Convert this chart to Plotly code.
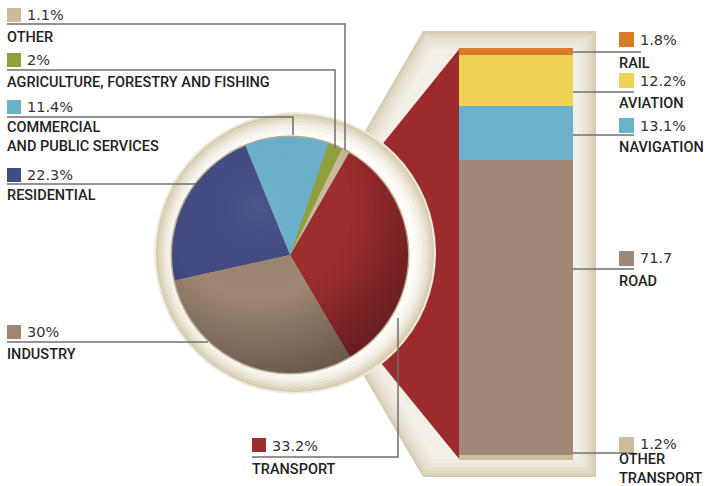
import base64
import math
import plotly.graph_objects as go

W, H = 709, 486

# ---------------- data ----------------
sectors = ["TRANSPORT", "OTHER", "AGRICULTURE, FORESTRY AND FISHING",
           "COMMERCIAL<br>AND PUBLIC SERVICES", "RESIDENTIAL", "INDUSTRY"]
sector_share = [33.2, 1.1, 2.0, 11.4, 22.3, 30.0]
sector_value_labels = ["33.2%", "1.1%", "2%", "11.4%", "22.3%", "30%"]
sector_colors = ["#9e2d2f", "#cbbb9a", "#8ea23c", "#69b0c9", "#434b84", "#9d8571"]

modes = ["OTHER<br>TRANSPORT", "ROAD", "NAVIGATION", "AVIATION", "RAIL"]
mode_share = [1.2, 71.7, 13.1, 12.2, 1.8]
mode_value_labels = ["1.2%", "71.7", "13.1%", "12.2%", "1.8%"]
mode_colors = ["#cdbd9c", "#a08878", "#6ab1ca", "#efd253", "#d97b2a"]

# ---------------- layout helpers (pixel space) ----------------
def Y(y):
    return H - y

PIE_C = (290, 255)
PIE_R = 118
RING_C = (295, 253)
BAR_X = (459, 573)
BAR_Y = (48, 460)

fig = go.Figure()

# pie of sectors
fig.add_trace(go.Pie(
    labels=[s.replace("<br>", " ") for s in sectors], values=sector_share,
    marker=dict(colors=sector_colors, line=dict(width=0)),
    sort=False, direction="counterclockwise", rotation=30,
    textinfo="none", hoverinfo="label+percent", showlegend=False,
    domain=dict(x=[(PIE_C[0] - PIE_R) / W, (PIE_C[0] + PIE_R) / W],
                y=[(Y(PIE_C[1]) - PIE_R) / H, (Y(PIE_C[1]) + PIE_R) / H]),
))

# stacked bar of transport modes
for m, v, c in zip(modes, mode_share, mode_colors):
    fig.add_trace(go.Bar(
        x=[0], y=[v], name=m.replace("<br>", " "), marker=dict(color=c, line=dict(width=0)),
        width=1, xaxis="x2", yaxis="y2", showlegend=False,
    ))

shapes = []

def inset_poly(pts, d):
    """Shrink a convex polygon by moving every edge d pixels towards the centroid."""
    n = len(pts)
    cx = sum(p[0] for p in pts) / n
    cy = sum(p[1] for p in pts) / n
    lines = []
    for i in range(n):
        x1, y1 = pts[i]
        x2, y2 = pts[(i + 1) % n]
        dx, dy = x2 - x1, y2 - y1
        L = math.hypot(dx, dy)
        nx, ny = -dy / L, dx / L
        if (cx - x1) * nx + (cy - y1) * ny < 0:
            nx, ny = -nx, -ny
        lines.append(((x1 + nx * d, y1 + ny * d), (dx, dy)))
    out = []
    for i in range(n):
        (p1, d1), (p2, d2) = lines[i - 1], lines[i]
        den = d1[0] * d2[1] - d1[1] * d2[0]
        t = ((p2[0] - p1[0]) * d2[1] - (p2[1] - p1[1]) * d2[0]) / den
        out.append((p1[0] + t * d1[0], p1[1] + t * d1[1]))
    return out

def poly_path(pts):
    return "M " + " L ".join(f"{x:.2f},{Y(y):.2f}" for x, y in pts) + " Z"

# hexagonal beige background with graded border
hexagon = [(423, 31), (596, 31), (596, 477), (423, 477), (293, 255)]
for d, col in [(0, "#d6cbb1"), (2, "#dcd2bc"), (4, "#e2d9c7"), (7, "#e8e1d2"),
               (10, "#ece6da"), (14, "#f0ebe1"), (18, "#f3efe7")]:
    shapes.append(dict(type="path", path=poly_path(inset_poly(hexagon, d)),
                       fillcolor=col, line=dict(width=0), layer="below", xref="x", yref="y"))

# red connector from pie to bar
shapes.append(dict(type="path", path=poly_path([(BAR_X[0] + 1, BAR_Y[0]), (BAR_X[0] + 1, BAR_Y[1]), (293, 255)]),
                   fillcolor="#9b2b2d", line=dict(width=0), layer="below", xref="x", yref="y"))

# ring around the pie
for r, col in [(141, "#efeadf"), (139, "#d7cbb0"), (137, "#dfd6c1"), (134, "#e8e1d0"),
               (131, "#efeadf"), (128, "#f5f2ea"), (124, "#faf8f3"), (121, "#fdfcf9")]:
    shapes.append(dict(type="circle", x0=RING_C[0] - r, x1=RING_C[0] + r,
                       y0=Y(RING_C[1]) - r, y1=Y(RING_C[1]) + r,
                       fillcolor=col, line=dict(width=0), layer="below", xref="x", yref="y"))
shapes.append(dict(type="circle", x0=PIE_C[0] - PIE_R - 1.5, x1=PIE_C[0] + PIE_R + 1.5,
                   y0=Y(PIE_C[1]) - PIE_R - 1.5, y1=Y(PIE_C[1]) + PIE_R + 1.5,
                   fillcolor="#b9ad95", line=dict(width=0), layer="below", xref="x", yref="y"))

# pie shading overlay (radial gradient)
svg = ('<svg xmlns="http://www.w3.org/2000/svg" width="240" height="240" viewBox="0 0 240 240">'
       '<defs><radialGradient id="g" cx="0.36" cy="0.30" r="0.78">'
       '<stop offset="0" stop-color="#fff" stop-opacity="0.05"/>'
       '<stop offset="0.5" stop-color="#000" stop-opacity="0"/>'
       '<stop offset="1" stop-color="#000" stop-opacity="0.38"/>'
       '</radialGradient></defs><circle cx="120" cy="120" r="120" fill="url(#g)"/></svg>')
img_src = "data:image/svg+xml;base64," + base64.b64encode(svg.encode()).decode()
images = [dict(source=img_src, xref="paper", yref="paper",
               x=(PIE_C[0] - PIE_R) / W, y=Y(PIE_C[1] - PIE_R) / H,
               sizex=2 * PIE_R / W, sizey=2 * PIE_R / H,
               xanchor="left", yanchor="top", sizing="stretch", layer="above")]

# ---------------- labels ----------------
LINE_COL = "#6f6f6f"
TXT = "#222222"
LABEL_FONT = dict(family="Roboto, Liberation Sans, Arial, sans-serif", size=14.5, color=TXT, weight=500)
VALUE_FONT = dict(family="DejaVu Sans, sans-serif", size=14.5, color="#333333")

annotations = []

def add_label(sq, val_y, val_text, name_y, name_text, color, line_pts, sq_size=14):
    sx, sy = sq
    shapes.append(dict(type="rect", x0=sx, x1=sx + sq_size, y0=Y(sy), y1=Y(sy + sq_size),
                       fillcolor=color, line=dict(width=0), layer="above", xref="x", yref="y"))
    annotations.append(dict(x=sx + sq_size + 4, y=Y(val_y), text=val_text, showarrow=False,
                            xanchor="left", yanchor="middle", font=VALUE_FONT, xref="x", yref="y"))
    annotations.append(dict(x=sx - 2, y=Y(name_y), text=name_text, showarrow=False,
                            xanchor="left", yanchor="middle", font=LABEL_FONT, xref="x", yref="y",
                            align="left"))
    path = "M " + " L ".join(f"{x},{Y(y)}" for x, y in line_pts)
    shapes.append(dict(type="path", path=path, line=dict(color=LINE_COL, width=1.5),
                       layer="above", xref="x", yref="y"))

# left-side sector labels (index into sector lists)
sector_label_pos = {
    1: ((7, 8), 15, 37, [(7, 24), (345, 24), (345, 150)]),
    2: ((7, 53), 60, 82, [(7, 70), (335, 70), (335, 148)]),
    3: ((7, 100), 107, 137, [(7, 117), (293, 117), (293, 135)]),
    4: ((7, 168), 175, 195, [(7, 184), (196, 184)]),
    5: ((7, 325), 332, 354, [(7, 342), (208, 342)]),
    0: ((252, 438), 446, 469, [(252, 457), (398, 457), (398, 318)]),
}
for i, (sq, vy, ny, pts) in sector_label_pos.items():
    add_label(sq, vy, sector_value_labels[i], ny, sectors[i], sector_colors[i], pts)

mode_label_pos = {
    4: ((619, 32), 40, 63, [(573, 52), (641, 52)]),
    3: ((619, 73), 81, 103, [(573, 92), (634, 92)]),
    2: ((619, 118), 126, 147, [(573, 135), (634, 135)]),
    1: ((619, 251), 258, 281, [(573, 269), (634, 269)]),
    0: ((619, 437), 444, 469, [(573, 453), (634, 453)]),
}
for i, (sq, vy, ny, pts) in mode_label_pos.items():
    add_label(sq, vy, mode_value_labels[i], ny, modes[i], mode_colors[i], pts, sq_size=15)

fig.update_layout(
    width=W, height=H, margin=dict(l=0, r=0, t=0, b=0),
    paper_bgcolor="white", plot_bgcolor="rgba(0,0,0,0)",
    barmode="stack", bargap=0,
    xaxis=dict(range=[0, W], visible=False, domain=[0, 1], fixedrange=True),
    yaxis=dict(range=[0, H], visible=False, domain=[0, 1], fixedrange=True),
    xaxis2=dict(range=[-0.5, 0.5], visible=False, domain=[BAR_X[0] / W, BAR_X[1] / W],
                anchor="y2", fixedrange=True),
    yaxis2=dict(range=[0, 100], visible=False, domain=[Y(BAR_Y[1]) / H, Y(BAR_Y[0]) / H],
                anchor="x2", fixedrange=True),
    shapes=shapes, annotations=annotations, images=images,
    showlegend=False,
)

fig.write_html("out.html", config=dict(displayModeBar=False),
               post_script="document.body.style.margin='0';document.body.style.overflow='hidden';")
